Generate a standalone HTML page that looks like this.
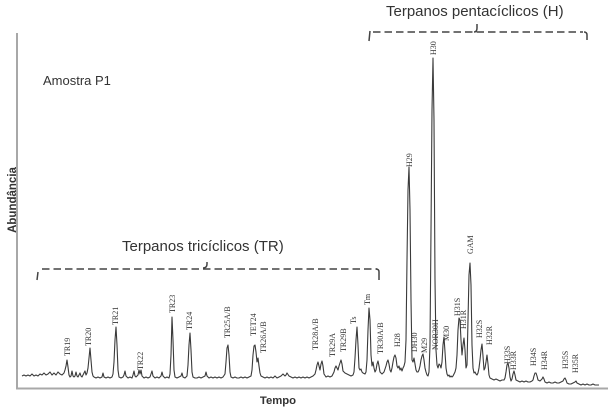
<!DOCTYPE html>
<html><head><meta charset="utf-8"><style>
html,body{margin:0;padding:0;background:#fff;}
svg{display:block;}
</style></head><body>
<svg width="613" height="410" viewBox="0 0 613 410" xmlns="http://www.w3.org/2000/svg">
<rect width="613" height="410" fill="#fff"/>
<!-- axes -->
<line x1="17" y1="33" x2="17" y2="389" stroke="#a8a8a8" stroke-width="2"/>
<line x1="16" y1="388.5" x2="608" y2="388.5" stroke="#a8a8a8" stroke-width="2"/>

<!-- titles -->
<text x="43" y="85" font-family="Liberation Sans, sans-serif" font-size="13" fill="#333">Amostra P1</text>
<text transform="translate(16,200) rotate(-90)" text-anchor="middle" font-family="Liberation Sans, sans-serif" font-size="11.5" font-weight="bold" fill="#333">Abundância</text>
<text x="278" y="404" text-anchor="middle" font-family="Liberation Sans, sans-serif" font-size="11.3" font-weight="bold" fill="#333">Tempo</text>
<text x="122" y="251" font-family="Liberation Sans, sans-serif" font-size="15" fill="#333">Terpanos tricíclicos (TR)</text>
<text x="386" y="16" font-family="Liberation Sans, sans-serif" font-size="15" fill="#333">Terpanos pentacíclicos (H)</text>

<!-- brackets -->
<g stroke="#444" stroke-width="1.5" fill="none">
<line x1="42" y1="269" x2="377" y2="269" stroke-dasharray="7.5 4"/>
<path d="M38,272 L37,280"/>
<path d="M376,269 Q379,269 379,272 L379,280"/>
<path d="M203,268 Q207,268 207,264 L207,262"/>
<line x1="373" y1="32" x2="583" y2="32" stroke-dasharray="7.5 4"/>
<path d="M370,31 L369,41"/>
<path d="M584,32 Q587,32 587,35 L587,40"/>
<path d="M474,32 Q477,32 477,28 L477,24"/>
</g>

<!-- chromatogram -->
<polyline fill="none" stroke="#3a3a3a" stroke-width="1.1" stroke-linejoin="round" points="22,376 24,375 26,376 28,375 30,376 32,374 34,376 36,375 38,376 40,374 42,375 44,373 46,375 48,374 50,372 52,375 54,373 56,375 58,372 60,374 62,375 64,373 65,370 66,366 67,360 68,367 69,375 70,377 71,376 72,371 73,376 74,377 75,376 76,372 77,376 78,377 79,375 80,373 81,376 82,377 83,375 84,373 85,371 86,375 87,373 88,368 89,358 90,348 91,360 92,372 93,376 94,377 96,378 98,377 100,378 102,377 103,373 104,377 106,378 108,377 110,378 112,377 113,374 114,362 115,340 116,327 117,345 118,370 119,377 121,378 123,377 124,375 125,371 126,376 128,378 130,377 132,378 133,375 134,371 135,376 136,377 138,375 139,370 140,374 141,370 142,376 144,378 146,377 148,378 150,377 151,374 152,371 153,376 155,378 157,377 159,378 161,376 162,372 163,376 165,378 167,377 169,378 170,374 171,355 172,317 173,340 174,370 175,377 177,378 179,377 181,376 182,373 183,377 185,378 187,376 188,365 189,345 190,333 191,350 192,372 193,377 195,378 197,378 199,377 201,378 203,377 205,376 206,372 207,376 209,378 211,377 213,378 215,377 217,378 219,377 221,378 223,377 225,374 226,362 227,348 228,345 229,355 230,372 231,377 233,378 235,377 237,378 239,378 241,377 243,378 245,377 247,378 249,377 251,376 252,370 253,355 254,346 255,345 256,352 257,362 258,358 259,366 260,373 261,376 263,377 265,378 267,377 269,378 271,377 273,378 275,376 277,378 279,377 281,376 283,374 285,376 286,375 287,373 289,376 291,377 293,378 295,377 297,378 299,377 301,378 303,377 305,378 307,377 309,378 311,377 313,376 315,374 316,370 317,365 318,362 319,366 320,370 321,364 322,361 323,366 324,374 326,377 328,376 330,377 332,376 334,372 335,368 336,366 337,368 338,370 339,366 340,363 341,360 342,364 343,371 345,373 347,374 349,375 351,376 353,375 354,372 355,358 356,340 357,327 358,345 359,368 360,370 361,369 362,372 363,373 365,374 366,372 367,360 368,330 369,308 370,320 371,355 372,366 373,362 374,368 375,372 376,370 377,364 378,361 379,366 380,372 382,374 384,372 386,366 387,362 388,360 389,364 390,370 391,372 392,368 393,362 394,357 395,355 396,358 397,366 398,368 399,366 400,370 401,368 402,371 403,368 404,366 405,362 406,340 407,260 408,190 409,167 410,210 411,300 412,360 413,362 414,358 415,364 416,370 417,372 418,372 419,370 420,366 421,360 422,356 423,354 424,360 425,368 426,372 427,375 428,376 429,372 430,345 431,230 432,110 433,58 434,120 435,280 436,350 437,365 438,368 439,364 440,365 441,368 442,362 443,345 444,337 445,352 446,368 447,374 448,376 449,375 450,377 451,376 452,377 453,376 454,374 455,372 456,368 457,355 458,330 459,318 460,320 461,340 462,355 463,345 464,338 465,350 466,368 467,365 468,320 469,275 470,263 471,285 472,345 473,368 474,373 475,372 476,374 477,375 478,373 479,368 480,360 481,350 482,344 483,356 484,370 485,368 486,362 487,355 488,364 489,375 490,378 492,379 494,380 496,379 498,380 500,381 502,380 504,380 505,378 506,372 507,365 508,363 509,368 510,377 511,381 512,379 513,374 514,371 515,375 516,380 518,381 520,382 522,381 524,382 526,381 528,382 530,382 532,381 533,380 534,376 535,373 536,373 537,376 538,380 540,381 542,379 543,377 544,379 545,382 547,383 549,382 551,383 553,383 555,382 557,383 559,383 561,382 563,381 564,379 565,378 566,380 567,383 569,384 571,384 573,383 575,382 576,381 577,383 579,384 581,385 583,384 585,385 587,384 589,385 591,385 593,384 595,385 597,385 599,385"/>

<!-- peak labels -->
<g font-family="Liberation Serif, serif" font-size="8" fill="#333">
<text transform="translate(70,356) rotate(-90)">TR19</text>
<text transform="translate(91,346) rotate(-90)">TR20</text>
<text transform="translate(118,325) rotate(-90)">TR21</text>
<text transform="translate(143,370) rotate(-90)">TR22</text>
<text transform="translate(175,313) rotate(-90)">TR23</text>
<text transform="translate(192,330) rotate(-90)">TR24</text>
<text transform="translate(230,338) rotate(-90)">TR25A/B</text>
<text transform="translate(256,336) rotate(-90)">TET24</text>
<text transform="translate(266,353) rotate(-90)">TR26A/B</text>
<text transform="translate(318,350) rotate(-90)">TR28A/B</text>
<text transform="translate(335,357) rotate(-90)">TR29A</text>
<text transform="translate(346,352) rotate(-90)">TR29B</text>
<text transform="translate(356,324) rotate(-90)">Ts</text>
<text transform="translate(370,305) rotate(-90)">Tm</text>
<text transform="translate(383,354) rotate(-90)">TR30A/B</text>
<text transform="translate(400,347) rotate(-90)">H28</text>
<text transform="translate(412,167) rotate(-90)">H29</text>
<text transform="translate(436,55) rotate(-90)">H30</text>
<text transform="translate(417,352) rotate(-90)">DH30</text>
<text transform="translate(427,353) rotate(-90)">M29</text>
<text transform="translate(438,350) rotate(-90)">NOR30H</text>
<text transform="translate(449,341) rotate(-90)">M30</text>
<text transform="translate(460,316) rotate(-90)">H31S</text>
<text transform="translate(466,329) rotate(-90)">H31R</text>
<text transform="translate(473,254) rotate(-90)">GAM</text>
<text transform="translate(482,338) rotate(-90)">H32S</text>
<text transform="translate(492,345) rotate(-90)">H32R</text>
<text transform="translate(510,364) rotate(-90)">H33S</text>
<text transform="translate(516,370) rotate(-90)">H33R</text>
<text transform="translate(536,366) rotate(-90)">H34S</text>
<text transform="translate(547,370) rotate(-90)">H34R</text>
<text transform="translate(568,369) rotate(-90)">H35S</text>
<text transform="translate(578,373) rotate(-90)">H35R</text>
</g>
</svg>
</body></html>
